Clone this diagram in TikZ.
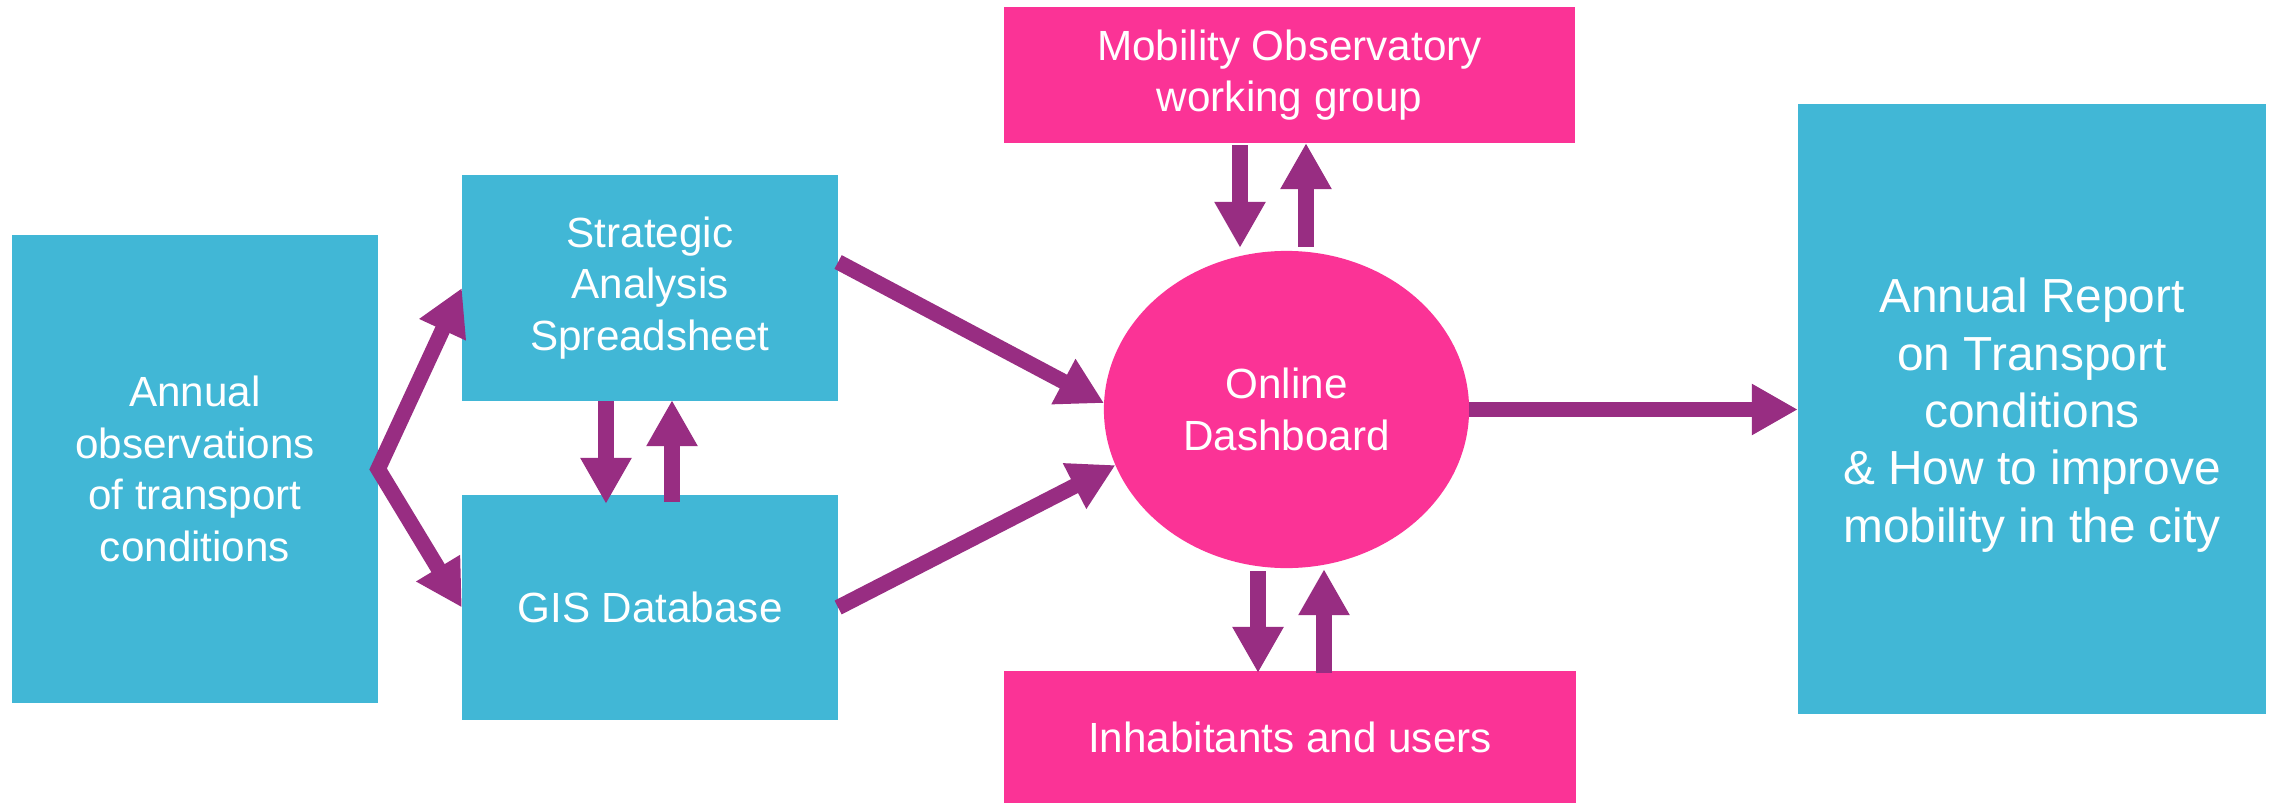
\documentclass[tikz,border=0pt]{standalone}
\usepackage{fontspec}
\setmainfont{Liberation Sans}
\usetikzlibrary{arrows.meta,shapes.geometric,calc}
\definecolor{boxcyan}{RGB}{65,183,214}
\definecolor{boxpink}{RGB}{251,51,150}
\definecolor{flow}{RGB}{152,45,130}
\begin{document}
\begin{tikzpicture}[x=0.01cm,y=-0.01cm,
  card/.style={fill=boxcyan, text=white, align=center, inner sep=0pt, outer sep=0pt,
    font=\fontsize{12}{14.65}\selectfont},
  pinkcard/.style={card, fill=boxpink},
  cardtext/.style={text=white, align=center, inner sep=0pt},
  flowarrow/.style={draw=flow, line width=0.155cm, line join=miter,
    -{Triangle[length=0.46cm,width=0.48cm]}},
  twoway/.style={flowarrow,
    {Triangle[length=0.46cm,width=0.48cm]}-{Triangle[length=0.46cm,width=0.48cm]}}
]
% canvas
\fill[white] (0,0) rectangle (2272,803);
\useasboundingbox (0,0) rectangle (2272,803);

% boxes
\node[card, minimum width=3.66cm, minimum height=4.68cm] (obs) at (195,469)
  {Annual\\observations\\of transport\\conditions};
\node[card, minimum width=3.76cm, minimum height=2.26cm] (sas) at (650,288)
  {Strategic\\Analysis\\Spreadsheet};
\node[card, minimum width=3.76cm, minimum height=2.25cm] (gis) at (650,607.5)
  {GIS Database};
\node[pinkcard, minimum width=5.71cm, minimum height=1.36cm] (mob) at (1289.5,75)
  {Mobility Observatory\\working group};
\node[pinkcard, ellipse, minimum width=3.65cm, minimum height=3.17cm] (dash) at (1286.5,409.5)
  {Online\\Dashboard};
\node[pinkcard, minimum width=5.72cm, minimum height=1.32cm] (inh) at (1290,737)
  {Inhabitants and users};
\node[card, minimum width=4.68cm, minimum height=6.10cm] (rep) at (2032,409) {};
\node[cardtext, font=\fontsize{13.6}{16.3}\selectfont] (reptext) at ($(rep.center)+(0,6)$)
  {Annual Report\\on Transport\\conditions\\\& How to improve\\mobility in the city};

% connectors
\draw[twoway] (sas.west) -- (obs.east) -- (gis.west);
\draw[flowarrow] ($(sas.south)+(-44,0)$) -- ($(gis.north)+(-44,9)$);
\draw[flowarrow] ($(gis.north)+(22,7)$) -- ($(sas.south)+(22,-1)$);
\draw[flowarrow] ($(sas.east)+(0,-26)$) -- (dash.178);
\draw[flowarrow] (gis.east) -- (dash.198);
\draw[flowarrow] ($(mob.south)+(-49.5,2)$) -- ($(dash.north)+(-46.5,-3)$);
\draw[flowarrow] ($(dash.north)+(19.5,-4)$) -- ($(mob.south)+(16.5,0)$);
\draw[flowarrow] ($(dash.south)+(-28.5,3)$) -- ($(inh.north)+(-32,2)$);
\draw[flowarrow] ($(inh.north)+(34,2)$) -- ($(dash.south)+(37.5,1)$);
\draw[flowarrow] (dash.east) -- (dash.east -| rep.west);
\end{tikzpicture}
\end{document}
